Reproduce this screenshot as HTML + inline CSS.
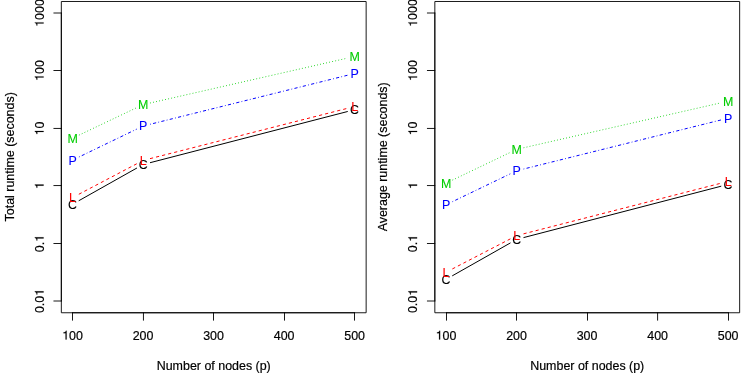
<!DOCTYPE html>
<html><head><meta charset="utf-8"><title>Runtime</title>
<style>
html,body{margin:0;padding:0;background:#fff;}
svg{display:block;will-change:transform;font-family:"Liberation Sans",sans-serif;font-size:12.45px;fill:#000;}
text{text-anchor:middle;stroke:#000;stroke-width:0.2px;}
.h{fill:none;stroke:none;}
</style></head><body>
<svg width="747" height="374" viewBox="0 0 747 374">

<g transform="translate(0,0)">
<path d="M79.07 200.58L136.64 168.17M150.38 162.63L347.37 111.57" fill="none" stroke="#000000" stroke-width="1.0" stroke-linecap="round"/>
<text transform="translate(72.56,208.7) scale(1,1.045)" style="fill:#000000;stroke:#000000;stroke-width:0.08px">C</text>
<text transform="translate(143.15,168.95) scale(1,1.045)" style="fill:#000000;stroke:#000000;stroke-width:0.08px">C</text>
<text transform="translate(354.6,114.15) scale(1,1.045)" style="fill:#000000;stroke:#000000;stroke-width:0.08px">C</text>
<path d="M79.17 194.07L136.54 163.88M150.39 158.55L347.36 108.35" fill="none" stroke="#FF0000" stroke-width="1.0" stroke-linecap="round" stroke-dasharray="2.4 3.83"/>
<text transform="translate(72.56,202) scale(1,1.045)" style="fill:#FF0000;stroke:#FF0000;stroke-width:0.08px">L</text>
<text transform="translate(143.15,164.85) scale(1,1.045)" style="fill:#FF0000;stroke:#FF0000;stroke-width:0.08px">L</text>
<text transform="translate(354.6,110.95) scale(1,1.045)" style="fill:#FF0000;stroke:#FF0000;stroke-width:0.08px">L</text>
<path d="M79.29 156.85L136.42 129.25M150.4 124.2L347.35 75.3" fill="none" stroke="#0000FF" stroke-width="1.0" stroke-linecap="round" stroke-dasharray="0.01 3.12 2.4 3.04"/>
<text transform="translate(72.56,164.55) scale(1,1.045)" style="fill:#0000FF;stroke:#0000FF;stroke-width:0.08px">P</text>
<text transform="translate(143.15,130.45) scale(1,1.045)" style="fill:#0000FF;stroke:#0000FF;stroke-width:0.08px">P</text>
<text transform="translate(354.6,77.95) scale(1,1.045)" style="fill:#0000FF;stroke:#0000FF;stroke-width:0.08px">P</text>
<path d="M79.3 134.99L136.41 107.81M150.43 102.94L347.32 58.16" fill="none" stroke="#00CD00" stroke-width="1.0" stroke-linecap="round" stroke-dasharray="0.01 3.105"/>
<text transform="translate(72.56,142.65) scale(1,1.045)" style="fill:#00CD00;stroke:#00CD00;stroke-width:0.08px">M</text>
<text transform="translate(143.15,109.05) scale(1,1.045)" style="fill:#00CD00;stroke:#00CD00;stroke-width:0.08px">M</text>
<text transform="translate(354.6,60.95) scale(1,1.045)" style="fill:#00CD00;stroke:#00CD00;stroke-width:0.08px">M</text>
<rect x="61.33" y="1.49" width="304.82" height="311.26" fill="none" stroke="#000" stroke-width="0.9" stroke-linejoin="round"/>
<path d="M72.5 312.75H354.5M72.5 312.75v7.47M143.45 312.75v7.47M213.5 312.75v7.47M284.5 312.75v7.47M354.5 312.75v7.47M61.33 301V13M61.33 13h-7.47M61.33 70.5h-7.47M61.33 128.45h-7.47M61.33 185.55h-7.47M61.33 243.5h-7.47M61.33 301h-7.47" fill="none" stroke="#000" stroke-width="0.9" stroke-linecap="round"/>
<g transform="translate(72.56,339.5)"><text transform="scale(1,1.045)"><tspan class="h">1</tspan>00</text><path d="M101-505V-567C195-567 290-600 300-703H359V0H271V-505Z" stroke="#000" stroke-width="14" transform="translate(-10.39,0) scale(0.01245)"/></g>
<text transform="translate(143.07,339.5) scale(1,1.045)">200</text>
<text transform="translate(213.58,339.5) scale(1,1.045)">300</text>
<text transform="translate(284.1,339.5) scale(1,1.045)">400</text>
<text transform="translate(354.6,339.5) scale(1,1.045)">500</text>
<g transform="translate(43.6,13) rotate(-90)"><text transform="scale(1,1.045)"><tspan class="h">1</tspan>000</text><path d="M101-505V-567C195-567 290-600 300-703H359V0H271V-505Z" stroke="#000" stroke-width="14" transform="translate(-13.85,0) scale(0.01245)"/></g>
<g transform="translate(43.6,70.5) rotate(-90)"><text transform="scale(1,1.045)"><tspan class="h">1</tspan>00</text><path d="M101-505V-567C195-567 290-600 300-703H359V0H271V-505Z" stroke="#000" stroke-width="14" transform="translate(-10.39,0) scale(0.01245)"/></g>
<g transform="translate(43.6,128.45) rotate(-90)"><text transform="scale(1,1.045)"><tspan class="h">1</tspan>0</text><path d="M101-505V-567C195-567 290-600 300-703H359V0H271V-505Z" stroke="#000" stroke-width="14" transform="translate(-6.92,0) scale(0.01245)"/></g>
<g transform="translate(43.6,185.55) rotate(-90)"><text transform="scale(1,1.045)"><tspan class="h">1</tspan></text><path d="M101-505V-567C195-567 290-600 300-703H359V0H271V-505Z" stroke="#000" stroke-width="14" transform="translate(-3.46,0) scale(0.01245)"/></g>
<g transform="translate(43.6,243.5) rotate(-90)"><text transform="scale(1,1.045)">0.<tspan class="h">1</tspan></text><path d="M101-505V-567C195-567 290-600 300-703H359V0H271V-505Z" stroke="#000" stroke-width="14" transform="translate(1.73,0) scale(0.01245)"/></g>
<g transform="translate(43.6,301) rotate(-90)"><text transform="scale(1,1.045)">0.0<tspan class="h">1</tspan></text><path d="M101-505V-567C195-567 290-600 300-703H359V0H271V-505Z" stroke="#000" stroke-width="14" transform="translate(5.19,0) scale(0.01245)"/></g>
<text transform="translate(213.74,369.5) scale(1,1.045)">Number of nodes (p)</text>
<text transform="translate(13.6,156.82) rotate(-90) scale(1,1.045)">Total runtime (seconds)</text>
</g>
<g transform="translate(373.5,0)">
<path d="M79.06 275.67L136.65 243.08M150.38 237.52L347.37 186.28" fill="none" stroke="#000000" stroke-width="1.0" stroke-linecap="round"/>
<text transform="translate(72.56,283.8) scale(1,1.045)" style="fill:#000000;stroke:#000000;stroke-width:0.08px">C</text>
<text transform="translate(143.15,243.85) scale(1,1.045)" style="fill:#000000;stroke:#000000;stroke-width:0.08px">C</text>
<text transform="translate(354.6,188.85) scale(1,1.045)" style="fill:#000000;stroke:#000000;stroke-width:0.08px">C</text>
<path d="M79.19 268.76L136.52 239.04M150.39 233.75L347.36 183.25" fill="none" stroke="#FF0000" stroke-width="1.0" stroke-linecap="round" stroke-dasharray="2.4 3.83"/>
<text transform="translate(72.56,276.65) scale(1,1.045)" style="fill:#FF0000;stroke:#FF0000;stroke-width:0.08px">L</text>
<text transform="translate(143.15,240.05) scale(1,1.045)" style="fill:#FF0000;stroke:#FF0000;stroke-width:0.08px">L</text>
<text transform="translate(354.6,185.85) scale(1,1.045)" style="fill:#FF0000;stroke:#FF0000;stroke-width:0.08px">L</text>
<path d="M79.29 201.51L136.42 173.99M150.4 168.95L347.35 120" fill="none" stroke="#0000FF" stroke-width="1.0" stroke-linecap="round" stroke-dasharray="0.01 3.12 2.4 3.04"/>
<text transform="translate(72.56,209.2) scale(1,1.045)" style="fill:#0000FF;stroke:#0000FF;stroke-width:0.08px">P</text>
<text transform="translate(143.15,175.2) scale(1,1.045)" style="fill:#0000FF;stroke:#0000FF;stroke-width:0.08px">P</text>
<text transform="translate(354.6,122.65) scale(1,1.045)" style="fill:#0000FF;stroke:#0000FF;stroke-width:0.08px">P</text>
<path d="M79.3 179.92L136.41 152.58M150.43 147.69L347.32 102.86" fill="none" stroke="#00CD00" stroke-width="1.0" stroke-linecap="round" stroke-dasharray="0.01 3.105"/>
<text transform="translate(72.56,187.6) scale(1,1.045)" style="fill:#00CD00;stroke:#00CD00;stroke-width:0.08px">M</text>
<text transform="translate(143.15,153.8) scale(1,1.045)" style="fill:#00CD00;stroke:#00CD00;stroke-width:0.08px">M</text>
<text transform="translate(354.6,105.65) scale(1,1.045)" style="fill:#00CD00;stroke:#00CD00;stroke-width:0.08px">M</text>
<rect x="61.33" y="1.49" width="304.82" height="311.26" fill="none" stroke="#000" stroke-width="0.9" stroke-linejoin="round"/>
<path d="M73 312.75H355M73 312.75v7.47M143 312.75v7.47M214 312.75v7.47M284.1 312.75v7.47M355 312.75v7.47M61.33 301V13M61.33 13h-7.47M61.33 70.5h-7.47M61.33 128.45h-7.47M61.33 185.55h-7.47M61.33 243.5h-7.47M61.33 301h-7.47" fill="none" stroke="#000" stroke-width="0.9" stroke-linecap="round"/>
<g transform="translate(72.56,339.5)"><text transform="scale(1,1.045)"><tspan class="h">1</tspan>00</text><path d="M101-505V-567C195-567 290-600 300-703H359V0H271V-505Z" stroke="#000" stroke-width="14" transform="translate(-10.39,0) scale(0.01245)"/></g>
<text transform="translate(143.07,339.5) scale(1,1.045)">200</text>
<text transform="translate(213.58,339.5) scale(1,1.045)">300</text>
<text transform="translate(284.1,339.5) scale(1,1.045)">400</text>
<text transform="translate(354.6,339.5) scale(1,1.045)">500</text>
<g transform="translate(43.6,13) rotate(-90)"><text transform="scale(1,1.045)"><tspan class="h">1</tspan>000</text><path d="M101-505V-567C195-567 290-600 300-703H359V0H271V-505Z" stroke="#000" stroke-width="14" transform="translate(-13.85,0) scale(0.01245)"/></g>
<g transform="translate(43.6,70.5) rotate(-90)"><text transform="scale(1,1.045)"><tspan class="h">1</tspan>00</text><path d="M101-505V-567C195-567 290-600 300-703H359V0H271V-505Z" stroke="#000" stroke-width="14" transform="translate(-10.39,0) scale(0.01245)"/></g>
<g transform="translate(43.6,128.45) rotate(-90)"><text transform="scale(1,1.045)"><tspan class="h">1</tspan>0</text><path d="M101-505V-567C195-567 290-600 300-703H359V0H271V-505Z" stroke="#000" stroke-width="14" transform="translate(-6.92,0) scale(0.01245)"/></g>
<g transform="translate(43.6,185.55) rotate(-90)"><text transform="scale(1,1.045)"><tspan class="h">1</tspan></text><path d="M101-505V-567C195-567 290-600 300-703H359V0H271V-505Z" stroke="#000" stroke-width="14" transform="translate(-3.46,0) scale(0.01245)"/></g>
<g transform="translate(43.6,243.5) rotate(-90)"><text transform="scale(1,1.045)">0.<tspan class="h">1</tspan></text><path d="M101-505V-567C195-567 290-600 300-703H359V0H271V-505Z" stroke="#000" stroke-width="14" transform="translate(1.73,0) scale(0.01245)"/></g>
<g transform="translate(43.6,301) rotate(-90)"><text transform="scale(1,1.045)">0.0<tspan class="h">1</tspan></text><path d="M101-505V-567C195-567 290-600 300-703H359V0H271V-505Z" stroke="#000" stroke-width="14" transform="translate(5.19,0) scale(0.01245)"/></g>
<text transform="translate(213.74,369.5) scale(1,1.045)">Number of nodes (p)</text>
<text transform="translate(13.6,156.82) rotate(-90) scale(1,1.045)">Average runtime (seconds)</text>
</g>
</svg>
</body></html>
